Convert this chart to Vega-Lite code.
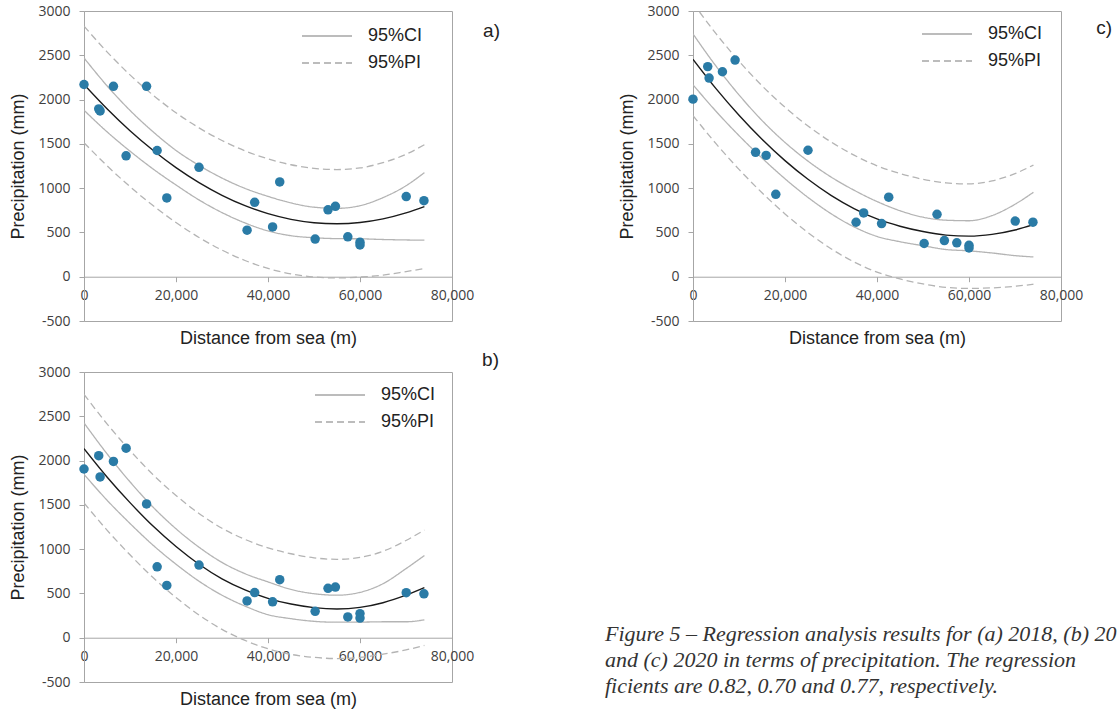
{
  "$schema": "https://vega.github.io/schema/vega-lite/v6.json",
  "background": "white",
  "padding": {"left": 9, "top": 3, "right": 0, "bottom": 0},
  "columns": 2,
  "spacing": {"row": 51, "column": 241},
  "bounds": "flush",
  "resolve": {"scale": {"strokeDash": "independent"}, "legend": {"strokeDash": "independent"}},
  "config": {
    "font": "Liberation Sans",
    "locale": {"number": {"decimal": ".", "thousands": ",", "grouping": [3], "currency": ["$", ""], "minus": "-"}},
    "view": {"stroke": "#a6a6a6", "strokeWidth": 1},
    "axis": {"domainColor": "#a6a6a6", "tickColor": "#a6a6a6", "tickSize": 5, "labelFont": "Open Sans", "labelFontSize": 14, "labelColor": "#404040", "titleFont": "Liberation Sans", "titleFontSize": 18, "titleFontWeight": "normal", "titleColor": "#222222", "grid": false, "labelFlush": false, "labelOverlap": false},
    "axisX": {"labelPadding": 7, "titlePadding": 27},
    "axisY": {"labelPadding": 9, "titlePadding": 10},
    "title": {"font": "Liberation Sans", "fontSize": 19, "fontWeight": "normal", "color": "#222222", "anchor": "end", "frame": "group", "baseline": "middle", "offset": 0}
  },
  "datasets": {
    "a_pts": [
      {"x": 0, "p": 2170}, {"x": 3200, "p": 1895}, {"x": 3500, "p": 1872}, {"x": 6400, "p": 2150}, {"x": 9150, "p": 1365},
      {"x": 13600, "p": 2150}, {"x": 15900, "p": 1425}, {"x": 18000, "p": 890}, {"x": 25000, "p": 1235}, {"x": 35450, "p": 525},
      {"x": 37100, "p": 840}, {"x": 41000, "p": 562}, {"x": 42550, "p": 1070}, {"x": 50250, "p": 425}, {"x": 53050, "p": 755},
      {"x": 54650, "p": 795}, {"x": 57350, "p": 450}, {"x": 60000, "p": 390}, {"x": 60000, "p": 358}, {"x": 70050, "p": 905},
      {"x": 73900, "p": 858}
    ],
    "b_pts": [
      {"x": 0, "p": 1905}, {"x": 3200, "p": 2055}, {"x": 3500, "p": 1815}, {"x": 6400, "p": 1990}, {"x": 9150, "p": 2140},
      {"x": 13600, "p": 1510}, {"x": 15900, "p": 800}, {"x": 18000, "p": 590}, {"x": 25000, "p": 820}, {"x": 35450, "p": 415},
      {"x": 37100, "p": 510}, {"x": 41000, "p": 405}, {"x": 42550, "p": 655}, {"x": 50250, "p": 298}, {"x": 53050, "p": 558},
      {"x": 54650, "p": 572}, {"x": 57350, "p": 235}, {"x": 60000, "p": 272}, {"x": 60000, "p": 222}, {"x": 70050, "p": 508},
      {"x": 73900, "p": 496}
    ],
    "c_pts": [
      {"x": 0, "p": 2005}, {"x": 3200, "p": 2372}, {"x": 3500, "p": 2243}, {"x": 6400, "p": 2314}, {"x": 9150, "p": 2446},
      {"x": 13600, "p": 1405}, {"x": 15900, "p": 1370}, {"x": 18000, "p": 930}, {"x": 25000, "p": 1428}, {"x": 35450, "p": 615},
      {"x": 37100, "p": 720}, {"x": 41000, "p": 600}, {"x": 42550, "p": 898}, {"x": 50250, "p": 375}, {"x": 53050, "p": 705},
      {"x": 54650, "p": 408}, {"x": 57350, "p": 383}, {"x": 60000, "p": 355}, {"x": 60000, "p": 325}, {"x": 70050, "p": 628},
      {"x": 73900, "p": 616}
    ],
    "a_cur": [
      {"x": 0, "fit": 2170, "CI_lo": 1880, "CI_hi": 2470, "PI_lo": 1513, "PI_hi": 2830},
      {"x": 5000, "fit": 1896, "CI_lo": 1636, "CI_hi": 2156, "PI_lo": 1253, "PI_hi": 2539},
      {"x": 10000, "fit": 1648, "CI_lo": 1418, "CI_hi": 1878, "PI_lo": 1017, "PI_hi": 2279},
      {"x": 15000, "fit": 1427, "CI_lo": 1217, "CI_hi": 1637, "PI_lo": 803, "PI_hi": 2051},
      {"x": 20000, "fit": 1231, "CI_lo": 1036, "CI_hi": 1426, "PI_lo": 612, "PI_hi": 1851},
      {"x": 25000, "fit": 1062, "CI_lo": 867, "CI_hi": 1257, "PI_lo": 443, "PI_hi": 1681},
      {"x": 30000, "fit": 919, "CI_lo": 724, "CI_hi": 1114, "PI_lo": 300, "PI_hi": 1538},
      {"x": 35000, "fit": 802, "CI_lo": 607, "CI_hi": 997, "PI_lo": 183, "PI_hi": 1421},
      {"x": 40000, "fit": 712, "CI_lo": 517, "CI_hi": 907, "PI_lo": 93, "PI_hi": 1331},
      {"x": 45000, "fit": 648, "CI_lo": 463, "CI_hi": 833, "PI_lo": 32, "PI_hi": 1264},
      {"x": 50000, "fit": 610, "CI_lo": 440, "CI_hi": 785, "PI_lo": -3, "PI_hi": 1223},
      {"x": 55000, "fit": 598, "CI_lo": 430, "CI_hi": 772, "PI_lo": -14, "PI_hi": 1210},
      {"x": 60000, "fit": 612, "CI_lo": 428, "CI_hi": 802, "PI_lo": -4, "PI_hi": 1228},
      {"x": 65000, "fit": 653, "CI_lo": 420, "CI_hi": 893, "PI_lo": 18, "PI_hi": 1288},
      {"x": 70000, "fit": 720, "CI_lo": 415, "CI_hi": 1027, "PI_lo": 58, "PI_hi": 1382},
      {"x": 74000, "fit": 792, "CI_lo": 412, "CI_hi": 1175, "PI_lo": 92, "PI_hi": 1490}
    ],
    "b_cur": [
      {"x": 0, "fit": 2135, "CI_lo": 1845, "CI_hi": 2425, "PI_lo": 1522, "PI_hi": 2748},
      {"x": 5000, "fit": 1815, "CI_lo": 1553, "CI_hi": 2077, "PI_lo": 1215, "PI_hi": 2415},
      {"x": 10000, "fit": 1525, "CI_lo": 1290, "CI_hi": 1760, "PI_lo": 936, "PI_hi": 2114},
      {"x": 15000, "fit": 1260, "CI_lo": 1045, "CI_hi": 1475, "PI_lo": 679, "PI_hi": 1841},
      {"x": 20000, "fit": 1030, "CI_lo": 830, "CI_hi": 1230, "PI_lo": 454, "PI_hi": 1606},
      {"x": 25000, "fit": 830, "CI_lo": 638, "CI_hi": 1022, "PI_lo": 257, "PI_hi": 1403},
      {"x": 30000, "fit": 665, "CI_lo": 480, "CI_hi": 850, "PI_lo": 94, "PI_hi": 1236},
      {"x": 35000, "fit": 540, "CI_lo": 357, "CI_hi": 723, "PI_lo": -30, "PI_hi": 1110},
      {"x": 40000, "fit": 445, "CI_lo": 260, "CI_hi": 630, "PI_lo": -125, "PI_hi": 1015},
      {"x": 45000, "fit": 380, "CI_lo": 215, "CI_hi": 545, "PI_lo": -188, "PI_hi": 948},
      {"x": 50000, "fit": 340, "CI_lo": 185, "CI_hi": 497, "PI_lo": -222, "PI_hi": 902},
      {"x": 55000, "fit": 325, "CI_lo": 175, "CI_hi": 480, "PI_lo": -235, "PI_hi": 885},
      {"x": 60000, "fit": 342, "CI_lo": 176, "CI_hi": 512, "PI_lo": -223, "PI_hi": 907},
      {"x": 65000, "fit": 395, "CI_lo": 180, "CI_hi": 610, "PI_lo": -186, "PI_hi": 976},
      {"x": 70000, "fit": 480, "CI_lo": 180, "CI_hi": 780, "PI_lo": -138, "PI_hi": 1098},
      {"x": 74000, "fit": 565, "CI_lo": 202, "CI_hi": 928, "PI_lo": -86, "PI_hi": 1216}
    ],
    "c_cur": [
      {"x": 0, "fit": 2454, "CI_lo": 2167, "CI_hi": 2741, "PI_lo": 1819, "PI_hi": 3089},
      {"x": 5000, "fit": 2123, "CI_lo": 1868, "CI_hi": 2378, "PI_lo": 1502, "PI_hi": 2744},
      {"x": 10000, "fit": 1823, "CI_lo": 1593, "CI_hi": 2053, "PI_lo": 1212, "PI_hi": 2434},
      {"x": 15000, "fit": 1552, "CI_lo": 1340, "CI_hi": 1764, "PI_lo": 948, "PI_hi": 2156},
      {"x": 20000, "fit": 1311, "CI_lo": 1106, "CI_hi": 1516, "PI_lo": 709, "PI_hi": 1913},
      {"x": 25000, "fit": 1100, "CI_lo": 895, "CI_hi": 1305, "PI_lo": 498, "PI_hi": 1702},
      {"x": 30000, "fit": 919, "CI_lo": 712, "CI_hi": 1126, "PI_lo": 316, "PI_hi": 1522},
      {"x": 35000, "fit": 770, "CI_lo": 563, "CI_hi": 977, "PI_lo": 167, "PI_hi": 1373},
      {"x": 40000, "fit": 652, "CI_lo": 455, "CI_hi": 849, "PI_lo": 52, "PI_hi": 1252},
      {"x": 45000, "fit": 570, "CI_lo": 395, "CI_hi": 745, "PI_lo": -25, "PI_hi": 1165},
      {"x": 50000, "fit": 510, "CI_lo": 350, "CI_hi": 672, "PI_lo": -82, "PI_hi": 1100},
      {"x": 55000, "fit": 470, "CI_lo": 307, "CI_hi": 638, "PI_lo": -120, "PI_hi": 1060},
      {"x": 60000, "fit": 458, "CI_lo": 292, "CI_hi": 632, "PI_lo": -132, "PI_hi": 1048},
      {"x": 65000, "fit": 478, "CI_lo": 268, "CI_hi": 690, "PI_lo": -126, "PI_hi": 1082},
      {"x": 70000, "fit": 528, "CI_lo": 238, "CI_hi": 818, "PI_lo": -108, "PI_hi": 1164},
      {"x": 74000, "fit": 588, "CI_lo": 223, "CI_hi": 953, "PI_lo": -85, "PI_hi": 1261}
    ]
  },
  "concat": [
    {
      "width": 368, "height": 310,
      "title": {"text": "a)", "dx": 48, "dy": 41},
      "layer": [
        {"data": {"name": "a_cur"}, "transform": [{"fold": ["CI_lo", "CI_hi"], "as": ["curve", "value"]}],
         "mark": {"type": "line", "clip": true, "interpolate": "monotone", "stroke": "#b4b4b4", "strokeWidth": 1.3},
         "encoding": {
           "x": {"field": "x", "type": "quantitative", "scale": {"domain": [0, 80000], "nice": false}, "axis": {"values": [0, 20000, 40000, 60000, 80000], "format": ",d", "offset": -44.29}, "title": "Distance from sea (m)"},
           "y": {"field": "value", "type": "quantitative", "scale": {"domain": [-500, 3000], "nice": false}, "axis": {"values": [-500, 0, 500, 1000, 1500, 2000, 2500, 3000], "format": "d"}, "title": "Precipitation (mm)"},
           "detail": {"field": "curve"},
           "strokeDash": {"datum": "95%CI", "scale": {"domain": ["95%CI", "95%PI"], "range": [[1, 0], [7, 4]]}, "legend": {"title": null, "orient": "none", "legendX": 232, "legendY": 14, "symbolType": "M-2.5,0H2.5", "symbolSize": 400, "symbolStrokeWidth": 1.3, "symbolStrokeColor": "#a6a6a6", "labelFont": "Liberation Sans", "labelFontSize": 18, "labelColor": "#222222", "labelOffset": 30, "padding": 0, "rowPadding": 7}}
         }},
        {"data": {"name": "a_cur"}, "transform": [{"fold": ["PI_lo", "PI_hi"], "as": ["curve", "value"]}],
         "mark": {"type": "line", "clip": true, "interpolate": "monotone", "stroke": "#b4b4b4", "strokeWidth": 1.3},
         "encoding": {
           "x": {"field": "x", "type": "quantitative", "scale": {"domain": [0, 80000], "nice": false}, "axis": {"values": [0, 20000, 40000, 60000, 80000], "format": ",d", "offset": -44.29}, "title": "Distance from sea (m)"},
           "y": {"field": "value", "type": "quantitative", "scale": {"domain": [-500, 3000], "nice": false}, "axis": {"values": [-500, 0, 500, 1000, 1500, 2000, 2500, 3000], "format": "d"}, "title": "Precipitation (mm)"},
           "detail": {"field": "curve"},
           "strokeDash": {"datum": "95%PI", "scale": {"domain": ["95%CI", "95%PI"], "range": [[1, 0], [7, 4]]}, "legend": {"title": null, "orient": "none", "legendX": 232, "legendY": 14, "symbolType": "M-2.5,0H2.5", "symbolSize": 400, "symbolStrokeWidth": 1.3, "symbolStrokeColor": "#a6a6a6", "labelFont": "Liberation Sans", "labelFontSize": 18, "labelColor": "#222222", "labelOffset": 30, "padding": 0, "rowPadding": 7}}
         }},
        {"data": {"name": "a_cur"},
         "mark": {"type": "line", "clip": true, "interpolate": "monotone", "stroke": "#1a1a1a", "strokeWidth": 1.4},
         "encoding": {
           "x": {"field": "x", "type": "quantitative", "scale": {"domain": [0, 80000], "nice": false}, "axis": {"values": [0, 20000, 40000, 60000, 80000], "format": ",d", "offset": -44.29}, "title": "Distance from sea (m)"},
           "y": {"field": "fit", "type": "quantitative", "scale": {"domain": [-500, 3000], "nice": false}, "axis": {"values": [-500, 0, 500, 1000, 1500, 2000, 2500, 3000], "format": "d"}, "title": "Precipitation (mm)"}
         }},
        {"data": {"name": "a_pts"},
         "mark": {"type": "circle", "size": 90, "opacity": 1, "color": "#2a7ba6"},
         "encoding": {
           "x": {"field": "x", "type": "quantitative", "scale": {"domain": [0, 80000], "nice": false}, "axis": {"values": [0, 20000, 40000, 60000, 80000], "format": ",d", "offset": -44.29}, "title": "Distance from sea (m)"},
           "y": {"field": "p", "type": "quantitative", "scale": {"domain": [-500, 3000], "nice": false}, "axis": {"values": [-500, 0, 500, 1000, 1500, 2000, 2500, 3000], "format": "d"}, "title": "Precipitation (mm)"}
         }}
      ]
    },
    {
      "width": 368, "height": 310,
      "title": {"text": "c)", "dx": 51, "dy": 38},
      "layer": [
        {"data": {"name": "c_cur"}, "transform": [{"fold": ["CI_lo", "CI_hi"], "as": ["curve", "value"]}],
         "mark": {"type": "line", "clip": true, "interpolate": "monotone", "stroke": "#b4b4b4", "strokeWidth": 1.3},
         "encoding": {
           "x": {"field": "x", "type": "quantitative", "scale": {"domain": [0, 80000], "nice": false}, "axis": {"values": [0, 20000, 40000, 60000, 80000], "format": ",d", "offset": -44.29}, "title": "Distance from sea (m)"},
           "y": {"field": "value", "type": "quantitative", "scale": {"domain": [-500, 3000], "nice": false}, "axis": {"values": [-500, 0, 500, 1000, 1500, 2000, 2500, 3000], "format": "d"}, "title": "Precipitation (mm)"},
           "detail": {"field": "curve"},
           "strokeDash": {"datum": "95%CI", "scale": {"domain": ["95%CI", "95%PI"], "range": [[1, 0], [7, 4]]}, "legend": {"title": null, "orient": "none", "legendX": 243, "legendY": 12, "symbolType": "M-2.5,0H2.5", "symbolSize": 400, "symbolStrokeWidth": 1.3, "symbolStrokeColor": "#a6a6a6", "labelFont": "Liberation Sans", "labelFontSize": 18, "labelColor": "#222222", "labelOffset": 30, "padding": 0, "rowPadding": 7}}
         }},
        {"data": {"name": "c_cur"}, "transform": [{"fold": ["PI_lo", "PI_hi"], "as": ["curve", "value"]}],
         "mark": {"type": "line", "clip": true, "interpolate": "monotone", "stroke": "#b4b4b4", "strokeWidth": 1.3},
         "encoding": {
           "x": {"field": "x", "type": "quantitative", "scale": {"domain": [0, 80000], "nice": false}, "axis": {"values": [0, 20000, 40000, 60000, 80000], "format": ",d", "offset": -44.29}, "title": "Distance from sea (m)"},
           "y": {"field": "value", "type": "quantitative", "scale": {"domain": [-500, 3000], "nice": false}, "axis": {"values": [-500, 0, 500, 1000, 1500, 2000, 2500, 3000], "format": "d"}, "title": "Precipitation (mm)"},
           "detail": {"field": "curve"},
           "strokeDash": {"datum": "95%PI", "scale": {"domain": ["95%CI", "95%PI"], "range": [[1, 0], [7, 4]]}, "legend": {"title": null, "orient": "none", "legendX": 243, "legendY": 12, "symbolType": "M-2.5,0H2.5", "symbolSize": 400, "symbolStrokeWidth": 1.3, "symbolStrokeColor": "#a6a6a6", "labelFont": "Liberation Sans", "labelFontSize": 18, "labelColor": "#222222", "labelOffset": 30, "padding": 0, "rowPadding": 7}}
         }},
        {"data": {"name": "c_cur"},
         "mark": {"type": "line", "clip": true, "interpolate": "monotone", "stroke": "#1a1a1a", "strokeWidth": 1.4},
         "encoding": {
           "x": {"field": "x", "type": "quantitative", "scale": {"domain": [0, 80000], "nice": false}, "axis": {"values": [0, 20000, 40000, 60000, 80000], "format": ",d", "offset": -44.29}, "title": "Distance from sea (m)"},
           "y": {"field": "fit", "type": "quantitative", "scale": {"domain": [-500, 3000], "nice": false}, "axis": {"values": [-500, 0, 500, 1000, 1500, 2000, 2500, 3000], "format": "d"}, "title": "Precipitation (mm)"}
         }},
        {"data": {"name": "c_pts"},
         "mark": {"type": "circle", "size": 90, "opacity": 1, "color": "#2a7ba6"},
         "encoding": {
           "x": {"field": "x", "type": "quantitative", "scale": {"domain": [0, 80000], "nice": false}, "axis": {"values": [0, 20000, 40000, 60000, 80000], "format": ",d", "offset": -44.29}, "title": "Distance from sea (m)"},
           "y": {"field": "p", "type": "quantitative", "scale": {"domain": [-500, 3000], "nice": false}, "axis": {"values": [-500, 0, 500, 1000, 1500, 2000, 2500, 3000], "format": "d"}, "title": "Precipitation (mm)"}
         }}
      ]
    },
    {
      "width": 368, "height": 310,
      "title": {"text": "b)", "dx": 47, "dy": 9},
      "layer": [
        {"data": {"name": "b_cur"}, "transform": [{"fold": ["CI_lo", "CI_hi"], "as": ["curve", "value"]}],
         "mark": {"type": "line", "clip": true, "interpolate": "monotone", "stroke": "#b4b4b4", "strokeWidth": 1.3},
         "encoding": {
           "x": {"field": "x", "type": "quantitative", "scale": {"domain": [0, 80000], "nice": false}, "axis": {"values": [0, 20000, 40000, 60000, 80000], "format": ",d", "offset": -44.29}, "title": "Distance from sea (m)"},
           "y": {"field": "value", "type": "quantitative", "scale": {"domain": [-500, 3000], "nice": false}, "axis": {"values": [-500, 0, 500, 1000, 1500, 2000, 2500, 3000], "format": "d"}, "title": "Precipitation (mm)"},
           "detail": {"field": "curve"},
           "strokeDash": {"datum": "95%CI", "scale": {"domain": ["95%CI", "95%PI"], "range": [[1, 0], [7, 4]]}, "legend": {"title": null, "orient": "none", "legendX": 245, "legendY": 12, "symbolType": "M-2.5,0H2.5", "symbolSize": 400, "symbolStrokeWidth": 1.3, "symbolStrokeColor": "#a6a6a6", "labelFont": "Liberation Sans", "labelFontSize": 18, "labelColor": "#222222", "labelOffset": 30, "padding": 0, "rowPadding": 7}}
         }},
        {"data": {"name": "b_cur"}, "transform": [{"fold": ["PI_lo", "PI_hi"], "as": ["curve", "value"]}],
         "mark": {"type": "line", "clip": true, "interpolate": "monotone", "stroke": "#b4b4b4", "strokeWidth": 1.3},
         "encoding": {
           "x": {"field": "x", "type": "quantitative", "scale": {"domain": [0, 80000], "nice": false}, "axis": {"values": [0, 20000, 40000, 60000, 80000], "format": ",d", "offset": -44.29}, "title": "Distance from sea (m)"},
           "y": {"field": "value", "type": "quantitative", "scale": {"domain": [-500, 3000], "nice": false}, "axis": {"values": [-500, 0, 500, 1000, 1500, 2000, 2500, 3000], "format": "d"}, "title": "Precipitation (mm)"},
           "detail": {"field": "curve"},
           "strokeDash": {"datum": "95%PI", "scale": {"domain": ["95%CI", "95%PI"], "range": [[1, 0], [7, 4]]}, "legend": {"title": null, "orient": "none", "legendX": 245, "legendY": 12, "symbolType": "M-2.5,0H2.5", "symbolSize": 400, "symbolStrokeWidth": 1.3, "symbolStrokeColor": "#a6a6a6", "labelFont": "Liberation Sans", "labelFontSize": 18, "labelColor": "#222222", "labelOffset": 30, "padding": 0, "rowPadding": 7}}
         }},
        {"data": {"name": "b_cur"},
         "mark": {"type": "line", "clip": true, "interpolate": "monotone", "stroke": "#1a1a1a", "strokeWidth": 1.4},
         "encoding": {
           "x": {"field": "x", "type": "quantitative", "scale": {"domain": [0, 80000], "nice": false}, "axis": {"values": [0, 20000, 40000, 60000, 80000], "format": ",d", "offset": -44.29}, "title": "Distance from sea (m)"},
           "y": {"field": "fit", "type": "quantitative", "scale": {"domain": [-500, 3000], "nice": false}, "axis": {"values": [-500, 0, 500, 1000, 1500, 2000, 2500, 3000], "format": "d"}, "title": "Precipitation (mm)"}
         }},
        {"data": {"name": "b_pts"},
         "mark": {"type": "circle", "size": 90, "opacity": 1, "color": "#2a7ba6"},
         "encoding": {
           "x": {"field": "x", "type": "quantitative", "scale": {"domain": [0, 80000], "nice": false}, "axis": {"values": [0, 20000, 40000, 60000, 80000], "format": ",d", "offset": -44.29}, "title": "Distance from sea (m)"},
           "y": {"field": "p", "type": "quantitative", "scale": {"domain": [-500, 3000], "nice": false}, "axis": {"values": [-500, 0, 500, 1000, 1500, 2000, 2500, 3000], "format": "d"}, "title": "Precipitation (mm)"}
         }}
      ]
    },
    {
      "width": 2, "height": 78,
      "view": {"stroke": null},
      "data": {"values": [
        {"line": 1, "text": "Figure 5 – Regression analysis results for (a) 2018, (b) 20"},
        {"line": 2, "text": "and (c) 2020 in terms of precipitation. The regression"},
        {"line": 3, "text": "ficients are 0.82, 0.70 and 0.77, respectively."}
      ]},
      "mark": {"type": "text", "align": "left", "baseline": "middle", "font": "Liberation Serif", "fontStyle": "italic", "fontSize": 22, "color": "#333333", "dx": -89, "dy": 249},
      "encoding": {
        "y": {"field": "line", "type": "ordinal", "axis": null},
        "text": {"field": "text"}
      }
    }
  ]
}
